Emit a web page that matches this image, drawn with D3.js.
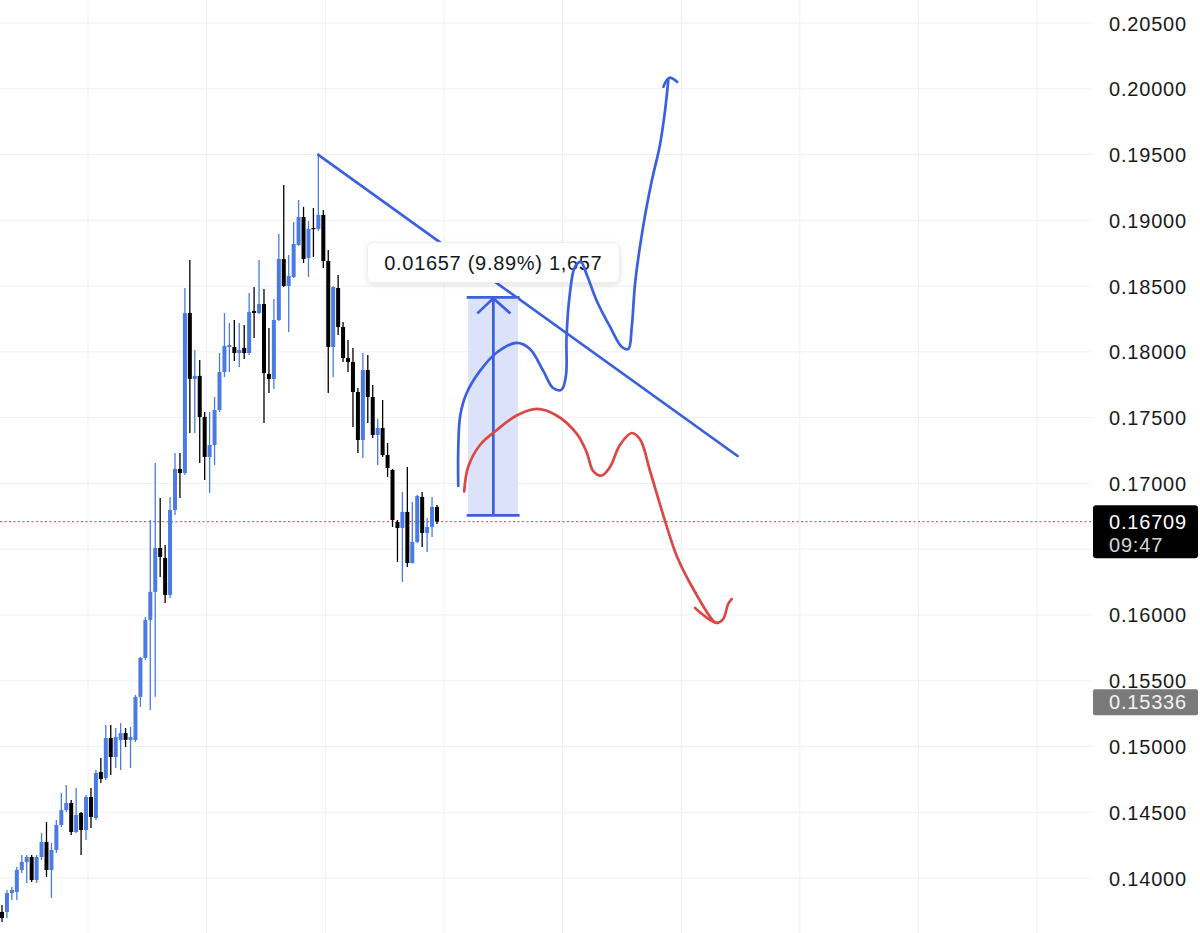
<!DOCTYPE html>
<html>
<head>
<meta charset="utf-8">
<script src="https://cdn.jsdelivr.net/npm/d3@7"></script>
<style>
  html, body { margin: 0; padding: 0; background: #ffffff; }
  svg { display: block; }
</style>
</head>
<body>
<svg id="chart" width="1200" height="933"></svg>
<script>
// ---------- DATA ----------
const opens = [
  0.13742,0.13742,0.13886,0.13894,0.14061,0.14122,0.14160,0.13985,0.14160,0.14274,
  0.14061,0.14213,0.14403,0.14517,0.14570,0.14350,0.14494,0.14365,0.14616,0.14456,
  0.14806,0.14760,0.15064,0.14920,0.15049,0.15102,0.15049,0.15049,0.15377,0.15673,
  0.15962,0.16175,0.16509,0.16433,0.16152,0.16798,0.17110,0.17079,0.18295,0.17794,
  0.17817,0.17505,0.17201,0.17292,0.17558,0.17847,0.18037,0.18037,0.17991,0.18030,
  0.17991,0.18311,0.18295,0.18364,0.17832,0.17794,0.18242,0.18706,0.18501,0.18569,
  0.18812,0.19025,0.18714,0.18942,0.18934,0.19041,0.18691,0.18037,0.18485,0.18189,
  0.17953,0.17923,0.17695,0.17330,0.17862,0.17657,0.17368,0.17421,0.17216,0.17102,
  0.16707,0.16661,0.16783,0.16395,0.16555,0.16897,0.16623,0.16669,0.16821
];
const highs = [
  0.13795,0.13909,0.13932,0.14084,0.14175,0.14175,0.14175,0.14175,0.14343,0.14426,
  0.14267,0.14441,0.14646,0.14707,0.14593,0.14684,0.14502,0.14631,0.14684,0.14821,
  0.14912,0.15163,0.15163,0.15140,0.15178,0.15140,0.15148,0.15392,0.15681,0.15985,
  0.16722,0.17155,0.16889,0.16532,0.16897,0.17231,0.17231,0.18485,0.18698,0.18014,
  0.17938,0.17543,0.17543,0.17657,0.17991,0.18295,0.18220,0.18242,0.18220,0.18204,
  0.18447,0.18493,0.18698,0.18478,0.18181,0.18402,0.18896,0.19269,0.18736,0.18987,
  0.19155,0.19101,0.18995,0.19094,0.19512,0.19079,0.18775,0.18500,0.18584,0.18227,
  0.18090,0.18030,0.17725,0.17991,0.17976,0.17748,0.17490,0.17634,0.17307,0.17110,
  0.16722,0.16935,0.17125,0.16859,0.16912,0.16935,0.16737,0.16897,0.16836
];
const lows = [
  0.13666,0.13696,0.13833,0.13833,0.14038,0.13962,0.13970,0.13962,0.14137,0.14008,
  0.13848,0.14190,0.14388,0.14502,0.14327,0.14343,0.14175,0.14289,0.14381,0.14441,
  0.14722,0.14745,0.14783,0.14836,0.14821,0.14996,0.14836,0.15034,0.15300,0.15658,
  0.15278,0.15377,0.16289,0.16091,0.16129,0.16760,0.16889,0.17064,0.17383,0.17383,
  0.17155,0.17026,0.16927,0.17140,0.17543,0.17809,0.17847,0.17931,0.17885,0.17946,
  0.17976,0.18105,0.18288,0.17459,0.17687,0.17718,0.18235,0.18493,0.18151,0.18562,
  0.18805,0.18676,0.18569,0.18721,0.18919,0.18638,0.17687,0.17809,0.18128,0.17923,
  0.17847,0.17429,0.17231,0.17193,0.17459,0.17345,0.17140,0.17201,0.17049,0.16669,
  0.16403,0.16251,0.16365,0.16390,0.16547,0.16517,0.16479,0.16593,0.16692
];
const closes = [
  0.13696,0.13886,0.13909,0.14061,0.14122,0.14160,0.13985,0.14160,0.14274,0.14061,
  0.14213,0.14403,0.14517,0.14570,0.14350,0.14479,0.14365,0.14616,0.14464,0.14798,
  0.14753,0.15064,0.14920,0.15072,0.15102,0.15049,0.15072,0.15377,0.15673,0.15962,
  0.16175,0.16509,0.16441,0.16152,0.16798,0.17110,0.17079,0.18295,0.17794,0.17817,
  0.17505,0.17201,0.17292,0.17558,0.17847,0.18045,0.18052,0.17991,0.18014,0.17991,
  0.18303,0.18295,0.18364,0.17839,0.17794,0.18242,0.18706,0.18501,0.18577,0.18820,
  0.19025,0.18706,0.18935,0.18934,0.19041,0.18691,0.18037,0.18493,0.18189,0.17953,
  0.17923,0.17695,0.17330,0.17862,0.17657,0.17368,0.17421,0.17216,0.17117,0.16722,
  0.16661,0.16783,0.16395,0.16555,0.16905,0.16623,0.16669,0.16821,0.16709
];
// 0.16500 is hidden behind the last-price box in the reference, so it is not labelled
const yTicks = [0.205,0.200,0.195,0.190,0.185,0.180,0.175,0.170,0.160,0.155,0.150,0.145,0.140];
const gridPrices = [0.135,0.140,0.145,0.150,0.155,0.160,0.165,0.170,0.175,0.180,0.185,0.190,0.195,0.200,0.205];
const timeGridBars = [17.4, 41.4, 65.4, 89.4, 113.4, 137.4, 161.4, 185.4, 209.4];
const lastPrice = 0.16709;
const lastTimer = "09:47";
const markPrice = 0.15336;

// drawings, in (bar index, price)
const trendLine = [[64, 0.19497], [148.8, 0.17208]];
const measureFrom = { bar0: 94.3, bar1: 104.4, barMid: 99.4, low: 0.16757, high: 0.18414 };
const measureText = "0.01657 (9.89%) 1,657";
const blueCurve = [
  [92.3,0.16980],[92.3,0.17262],[92.7,0.17516],[94.0,0.17687],[96.7,0.17855],[100.1,0.17995],
  [104.1,0.18068],[106.8,0.18022],[109.5,0.17855],[111.5,0.17725],[113.2,0.17713],[114.1,0.17824],
  [114.2,0.18107],[114.8,0.18417],[115.9,0.18645],[117.1,0.18683],[118.3,0.18586],[120.3,0.18389],
  [123.0,0.18191],[125.4,0.18037],[126.7,0.18022],[127.4,0.18191],[128.1,0.18531],[129.7,0.18952],
  [131.4,0.19291],[133.1,0.19573],[134.1,0.19824],[134.8,0.20067]
];
const blueArrow = [[133.8,0.20016],[135.0,0.20084],[136.6,0.20052]];
const redCurve = [
  [93.5,0.16939],[94.3,0.17125],[96.7,0.17292],[100.1,0.17406],[104.1,0.17516],[108.2,0.17566],
  [112.2,0.17516],[116.3,0.17376],[118.3,0.17234],[119.6,0.17094],[121.3,0.17060],[123.0,0.17125],
  [125.0,0.17292],[127.4,0.17383],[129.1,0.17333],[131.1,0.17094],[133.8,0.16755],[136.5,0.16448],
  [139.9,0.16193],[143.9,0.15954],[144.6,0.15939]
];
const redArrow = [[140.2,0.16053],[144.6,0.15939],[145.9,0.15969],[146.9,0.16083],[147.6,0.16121]];

// ---------- STYLE ----------
const FONT = "'Liberation Sans', Arial, Helvetica, sans-serif";
const UP = "#4a7ae3", DOWN = "#000000";
const DRAW_BLUE = "#3a60e0", DRAW_RED = "#dd4646";
const W = 1200, H = 933, plotRight = 1092;

const svg = d3.select("#chart");
const x = d3.scaleLinear().domain([0, 88]).range([2, 437]);
const y = d3.scaleLinear().domain([0.140, 0.205]).range([878, 23]);

const defs = svg.append("defs");
const f = defs.append("filter").attr("id", "shadow").attr("x", "-10%").attr("y", "-30%").attr("width", "120%").attr("height", "170%");
f.append("feDropShadow").attr("dx", 0).attr("dy", 1.5).attr("stdDeviation", 2.5).attr("flood-color", "#000").attr("flood-opacity", 0.12);

// grid
const gridG = svg.append("g");
gridG.selectAll("line.h").data(gridPrices).join("line")
  .attr("x1", 0).attr("x2", plotRight)
  .attr("y1", d => y(d)).attr("y2", d => y(d))
  .attr("stroke", "#eff0f2").attr("stroke-width", 1);
gridG.selectAll("line.v").data(timeGridBars).join("line")
  .attr("x1", d => x(d)).attr("x2", d => x(d))
  .attr("y1", 0).attr("y2", H)
  .attr("stroke", "#eff0f2").attr("stroke-width", 1);

// last price dotted line
svg.append("line")
  .attr("x1", 0).attr("x2", plotRight)
  .attr("y1", y(lastPrice)).attr("y2", y(lastPrice))
  .attr("stroke", "#e03a3a").attr("stroke-width", 1).attr("stroke-dasharray", "2,2.5");

// candles
const candles = d3.range(opens.length).map(i => ({ i, o: opens[i], h: highs[i], l: lows[i], c: closes[i] }));
const cg = svg.append("g");
const bw = 4.0;
cg.selectAll("line.wick").data(candles).join("line")
  .attr("x1", d => x(d.i)).attr("x2", d => x(d.i))
  .attr("y1", d => y(d.h)).attr("y2", d => y(d.l))
  .attr("stroke", d => d.c >= d.o ? UP : DOWN).attr("stroke-width", 1.3);
cg.selectAll("rect.body").data(candles).join("rect")
  .attr("x", d => x(d.i) - bw / 2)
  .attr("width", bw)
  .attr("y", d => Math.min(y(d.o), y(d.c)))
  .attr("height", d => Math.max(1.3, Math.abs(y(d.o) - y(d.c))))
  .attr("fill", d => d.c >= d.o ? UP : DOWN);

// trend line
const line = d3.line().x(d => x(d[0])).y(d => y(d[1]));
svg.append("path").datum(trendLine).attr("d", line)
  .attr("fill", "none").attr("stroke", DRAW_BLUE).attr("stroke-width", 2.7).attr("stroke-linecap", "round");

// measurement tool
const mg = svg.append("g");
mg.append("rect")
  .attr("x", x(measureFrom.bar0)).attr("width", x(measureFrom.bar1) - x(measureFrom.bar0))
  .attr("y", y(measureFrom.high)).attr("height", y(measureFrom.low) - y(measureFrom.high))
  .attr("fill", "#dbe2f9");
[measureFrom.high, measureFrom.low].forEach(p => {
  mg.append("line")
    .attr("x1", x(measureFrom.bar0) - 1.5).attr("x2", x(measureFrom.bar1) + 1.5)
    .attr("y1", y(p)).attr("y2", y(p))
    .attr("stroke", DRAW_BLUE).attr("stroke-width", 2.7);
});
mg.append("line")
  .attr("x1", x(measureFrom.barMid)).attr("x2", x(measureFrom.barMid))
  .attr("y1", y(measureFrom.high)).attr("y2", y(measureFrom.low))
  .attr("stroke", DRAW_BLUE).attr("stroke-width", 2.7);
const ax = x(measureFrom.barMid), ay = y(measureFrom.high);
mg.append("path")
  .attr("d", `M${ax - 16},${ay + 16}L${ax},${ay + 1}L${ax + 17},${ay + 16}`)
  .attr("fill", "none").attr("stroke", DRAW_BLUE).attr("stroke-width", 2.7);

// measurement label
const lblG = svg.append("g");
const lblCx = x(measureFrom.barMid), lblCy = y(measureFrom.high) - 35;
lblG.append("rect")
  .attr("x", lblCx - 126).attr("y", lblCy - 20).attr("width", 252).attr("height", 40)
  .attr("rx", 6).attr("fill", "#ffffff").attr("stroke", "#eceef2").attr("stroke-width", 1)
  .attr("filter", "url(#shadow)");
lblG.append("text")
  .attr("x", lblCx).attr("y", lblCy + 1)
  .attr("text-anchor", "middle").attr("dominant-baseline", "central")
  .attr("font-family", FONT).attr("font-size", 20).attr("letter-spacing", 0.7)
  .attr("fill", "#131722").text(measureText);

// hand drawn curves
const curve = d3.line().x(d => x(d[0])).y(d => y(d[1])).curve(d3.curveCatmullRom.alpha(0.5));
[[blueCurve, DRAW_BLUE], [blueArrow, DRAW_BLUE], [redCurve, DRAW_RED], [redArrow, DRAW_RED]].forEach(([pts, col]) => {
  svg.append("path").datum(pts).attr("d", curve)
    .attr("fill", "none").attr("stroke", col).attr("stroke-width", 2.7)
    .attr("stroke-linecap", "round").attr("stroke-linejoin", "round");
});

// right price axis
const axisG = svg.append("g").attr("transform", `translate(1109,0)`)
  .call(d3.axisRight(y).tickValues(yTicks).tickFormat(d3.format(".5f")).tickSize(0).tickPadding(0));
axisG.select(".domain").remove();
axisG.selectAll("text")
  .attr("font-family", FONT).attr("font-size", 20).attr("letter-spacing", 0.8)
  .attr("fill", "#1a1a1a").attr("dy", "0.35em");

// last price label
const lp = y(lastPrice);
svg.append("rect").attr("x", 1093).attr("y", lp - 16.5).attr("width", 105).attr("height", 53)
  .attr("rx", 3).attr("fill", "#000");
svg.append("text").attr("x", 1109).attr("y", lp).attr("dy", "0.35em")
  .attr("font-family", FONT).attr("font-size", 20).attr("letter-spacing", 0.8)
  .attr("fill", "#ffffff").text(d3.format(".5f")(lastPrice));
svg.append("text").attr("x", 1109).attr("y", lp + 23).attr("dy", "0.35em")
  .attr("font-family", FONT).attr("font-size", 20).attr("letter-spacing", 0.8)
  .attr("fill", "#d6d6d6").text(lastTimer);

// mark price label
const mp = y(markPrice);
svg.append("rect").attr("x", 1093).attr("y", mp - 13).attr("width", 105).attr("height", 26)
  .attr("rx", 2).attr("fill", "#7a7a7a");
svg.append("text").attr("x", 1109).attr("y", mp).attr("dy", "0.35em")
  .attr("font-family", FONT).attr("font-size", 20).attr("letter-spacing", 0.8)
  .attr("fill", "#f2f2f2").text(d3.format(".5f")(markPrice));
</script>
</body>
</html>
